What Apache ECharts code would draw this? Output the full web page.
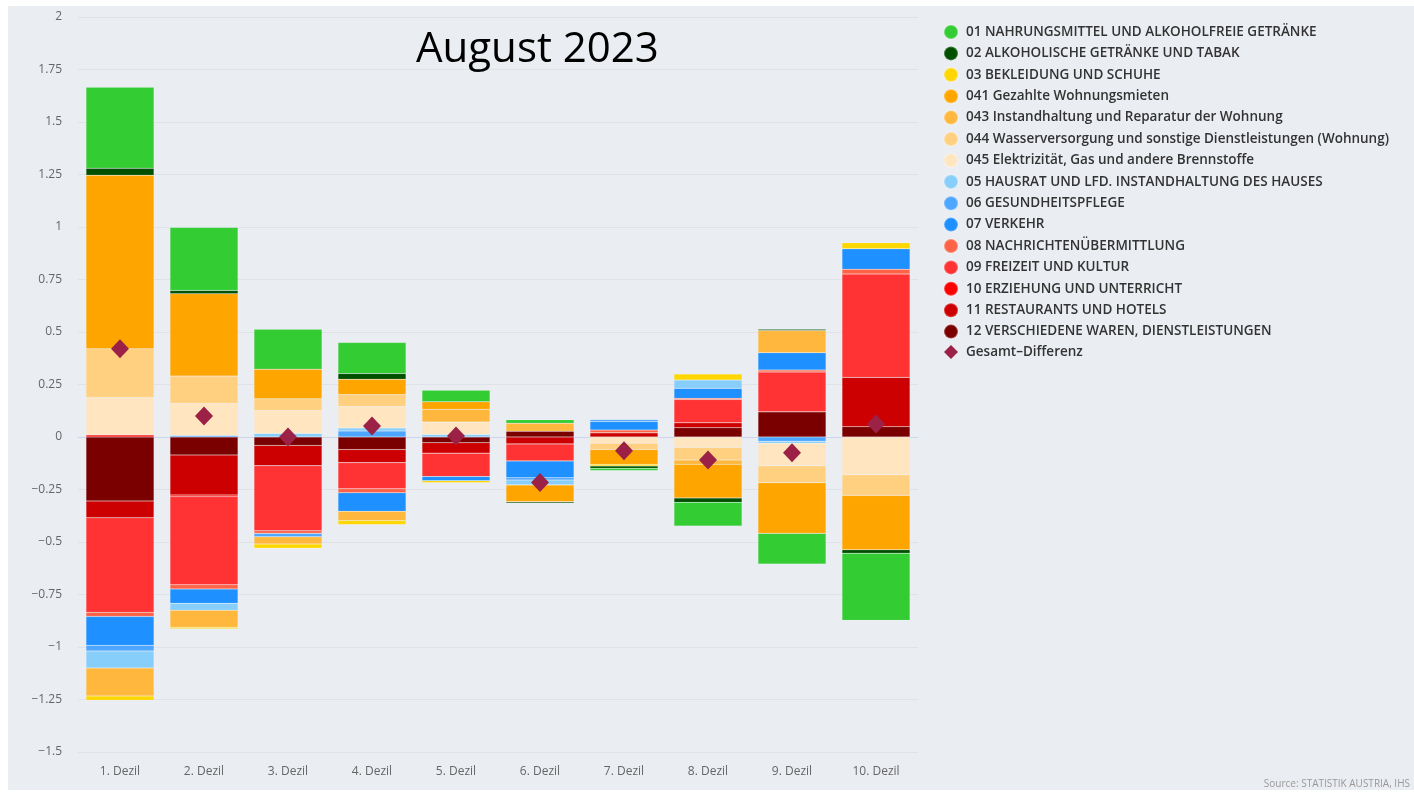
<!DOCTYPE html>
<html>
<head>
<meta charset="utf-8">
<script src="https://cdn.jsdelivr.net/npm/echarts@6/dist/echarts.min.js"></script>
<style>
html, body { margin: 0; padding: 0; background: #ffffff; }
#container { position: absolute; left: 8px; top: 6px; width: 1406px; height: 784px; background: #eaedf2; }
</style>
</head>
<body>
<div id="container"></div>
<script>
var categories = ['1. Dezil', '2. Dezil', '3. Dezil', '4. Dezil', '5. Dezil', '6. Dezil', '7. Dezil', '8. Dezil', '9. Dezil', '10. Dezil'];

var names = [
    '01 NAHRUNGSMITTEL UND ALKOHOLFREIE GETRÄNKE',
    '02 ALKOHOLISCHE GETRÄNKE UND TABAK',
    '03 BEKLEIDUNG UND SCHUHE',
    '041 Gezahlte Wohnungsmieten',
    '043 Instandhaltung und Reparatur der Wohnung',
    '044 Wasserversorgung und sonstige Dienstleistungen (Wohnung)',
    '045 Elektrizität, Gas und andere Brennstoffe',
    '05 HAUSRAT UND LFD. INSTANDHALTUNG DES HAUSES',
    '06 GESUNDHEITSPFLEGE',
    '07 VERKEHR',
    '08 NACHRICHTENÜBERMITTLUNG',
    '09 FREIZEIT UND KULTUR',
    '10 ERZIEHUNG UND UNTERRICHT',
    '11 RESTAURANTS UND HOTELS',
    '12 VERSCHIEDENE WAREN, DIENSTLEISTUNGEN'
];
var totalName = 'Gesamt–Differenz';

var colors = ['#33cc33', '#005000', '#ffd700', '#ffa500', '#ffb83d', '#ffd080', '#ffe6c0',
              '#87cefa', '#4da6ff', '#1e90ff', '#ff6347', '#ff3333', '#ff0000', '#cc0000', '#7a0000'];

var s01  = [0.386, 0.30, 0.19, 0.148, 0.055, 0.016, -0.01, -0.113, -0.146, -0.32];
var s02  = [0.033, 0.016, 0, 0.027, 0, -0.006, -0.011, -0.021, 0.006, -0.016];
var s03  = [-0.02, -0.007, -0.02, -0.019, -0.01, 0, -0.008, 0.029, 0, 0.028];
var s041 = [0.827, 0.392, 0.141, 0.073, 0.036, -0.079, -0.07, -0.16, -0.241, -0.259];
var s043 = [-0.133, -0.081, -0.035, -0.044, 0.061, 0.039, 0, -0.02, 0.106, 0];
var s044 = [0.232, 0.13, 0.056, 0.057, 0, 0, -0.03, -0.06, -0.081, -0.098];
var s045 = [0.178, 0.153, 0.109, 0.102, 0.059, 0, -0.03, -0.05, -0.107, -0.18];
var s05  = [-0.081, -0.033, 0.017, 0.014, 0.012, -0.024, 0, 0.039, -0.01, 0];
var s06  = [-0.027, 0.007, -0.016, 0.029, 0, -0.011, 0.01, 0, -0.02, 0];
var s07  = [-0.137, -0.068, 0, -0.088, -0.02, -0.08, 0.04, 0.048, 0.082, 0.098];
var s08  = [-0.02, -0.02, -0.012, -0.019, 0, 0, 0.013, 0.005, 0.01, 0.023];
var s09  = [-0.45, -0.42, -0.31, -0.125, -0.111, -0.081, 0, 0.111, 0.189, 0.492];
var s10  = [0.01, -0.008, 0, 0, 0, 0, 0, 0, 0, 0];
var s11  = [-0.08, -0.19, -0.097, -0.062, -0.05, -0.033, 0.02, 0.024, 0, 0.235];
var s12  = [-0.305, -0.086, -0.04, -0.06, -0.027, 0.027, 0, 0.044, 0.12, 0.049];
var gesamt = [0.42, 0.10, 0.0, 0.052, 0.005, -0.217, -0.065, -0.11, -0.075, 0.062];

var values = [s01, s02, s03, s041, s043, s044, s045, s05, s06, s07, s08, s09, s10, s11, s12];

var dom = document.getElementById('container');
var myChart = echarts.init(dom);

// echarts stacks the first series nearest to zero, so go backwards (12 ... 01)
var series = [];
for (var i = values.length - 1; i >= 0; i--) {
    series.push({
        name: names[i],
        type: 'bar',
        stack: 'total',
        barWidth: 68,
        itemStyle: { color: colors[i], borderColor: 'rgba(255,255,255,0.25)', borderWidth: 0.5 },
        data: values[i]
    });
}
series.push({
    name: totalName,
    type: 'scatter',
    symbol: 'diamond',
    symbolSize: [18, 19],
    z: 10,
    itemStyle: { color: '#9b2246', opacity: 1 },
    data: gesamt
});

var legendData = names.map(function (n) { return { name: n, icon: 'circle' }; });
legendData.push({ name: totalName, icon: 'diamond' });

option = {
    color: colors,
    animation: false,
    title: {
        text: 'August 2023',
        left: 403,
        top: 18,
        textStyle: { fontFamily: 'Open Sans', fontSize: 42, fontWeight: 'normal', color: '#000000' }
    },
    legend: {
        orient: 'vertical',
        left: 930,
        top: 13,
        itemWidth: 14,
        itemHeight: 14,
        itemGap: 5.4,
        data: legendData,
        textStyle: { fontFamily: 'Open Sans', fontSize: 13.5, lineHeight: 14, fontWeight: 600, color: '#333333', padding: [0, 0, 0, 3] }
    },
    graphic: [{
        type: 'text',
        right: 4,
        bottom: 1,
        style: { text: 'Source: STATISTIK AUSTRIA, IHS', fill: '#999999', font: '10px "Open Sans"' }
    }],
    grid: {
        left: 70,
        right: 496,
        top: 11,
        bottom: 38
    },
    xAxis: {
        type: 'category',
        data: categories,
        axisLine: { lineStyle: { color: '#ccd6eb' } },
        axisTick: { show: false },
        axisLabel: { color: '#666666', fontFamily: 'Open Sans', fontSize: 12, margin: 14 }
    },
    yAxis: {
        type: 'value',
        min: -1.5,
        max: 2,
        interval: 0.25,
        axisLine: { show: false },
        axisTick: { show: false },
        splitLine: { lineStyle: { color: '#dfe3e8' } },
        axisLabel: {
            color: '#666666', fontFamily: 'Open Sans', fontSize: 12, margin: 16,
            formatter: function (v) { return String(v).replace('-', '−'); }
        }
    },
    series: series
};

if (option && typeof option === 'object') {
    myChart.setOption(option, true);
}
</script>
</body>
</html>
